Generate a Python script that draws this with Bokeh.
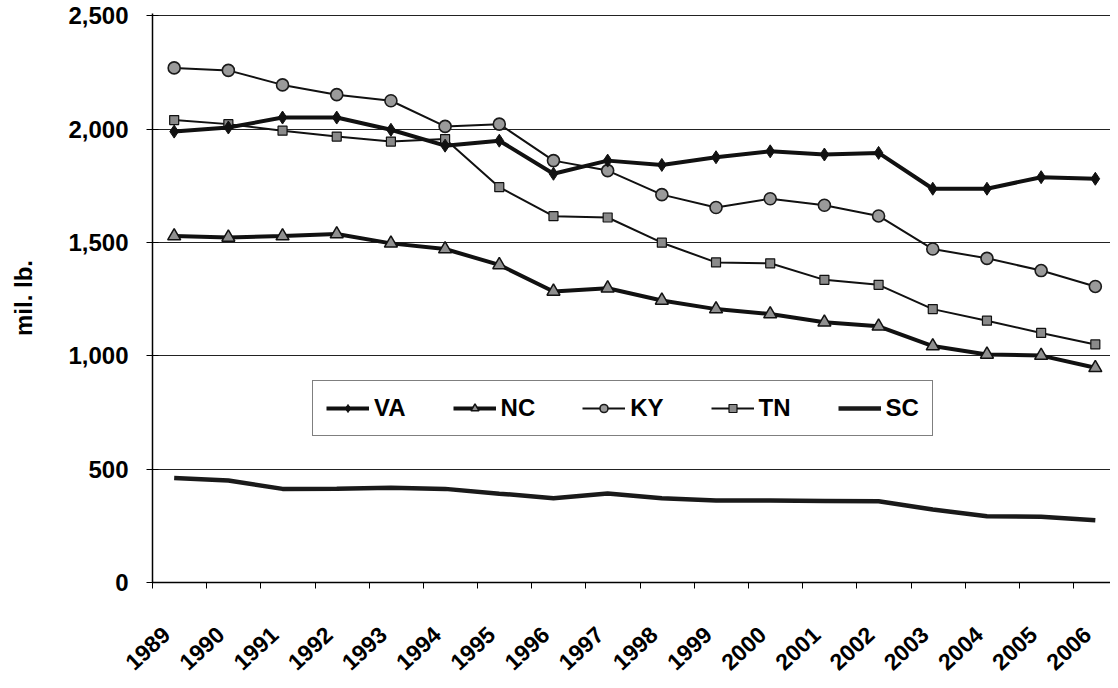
from bokeh.plotting import figure
from bokeh.models import FixedTicker, NumeralTickFormatter, Range1d, Legend
from bokeh.embed import file_html
from bokeh.resources import INLINE

years = list(range(1989, 2007))
va = [1989, 2007, 2051, 2051, 1997, 1927, 1949, 1803, 1861, 1842, 1876, 1902, 1888, 1895, 1737, 1737, 1788, 1781]
nc = [1528, 1522, 1528, 1537, 1496, 1471, 1401, 1284, 1298, 1244, 1206, 1184, 1148, 1130, 1043, 1006, 1001, 947]
ky = [2270, 2259, 2195, 2152, 2125, 2012, 2022, 1861, 1817, 1711, 1654, 1693, 1664, 1617, 1471, 1430, 1376, 1306]
tn = [2040, 2022, 1993, 1967, 1945, 1956, 1744, 1616, 1610, 1499, 1412, 1408, 1335, 1313, 1206, 1155, 1101, 1050]
sc = [461, 450, 413, 414, 418, 413, 392, 372, 393, 372, 362, 362, 360, 358, 322, 292, 290, 275]
y_ticks = [0, 500, 1000, 1500, 2000, 2500]

FONT = "Liberation Sans"

p = figure(width=1110, height=680, output_backend="svg", toolbar_location=None,
           x_range=Range1d(1988.6, 2006.28), y_range=Range1d(0, 2510),
           min_border_left=152, min_border_right=0, min_border_top=13, min_border_bottom=92)
p.outline_line_color = None
p.background_fill_color = "white"
p.border_fill_color = "white"

p.xgrid.grid_line_color = None
p.ygrid.grid_line_color = "#222222"
p.ygrid.grid_line_width = 1
p.ygrid.ticker = FixedTicker(ticks=y_ticks)

# y axis
p.yaxis.ticker = FixedTicker(ticks=y_ticks)
p.yaxis.formatter = NumeralTickFormatter(format="0,0")
p.yaxis.major_label_text_font = FONT
p.yaxis.major_label_text_font_style = "bold"
p.yaxis.major_label_text_font_size = "24px"
p.yaxis.major_label_text_color = "black"
p.yaxis.major_tick_in = 6
p.yaxis.major_tick_out = 6
p.yaxis.minor_tick_line_color = None
p.yaxis.major_label_standoff = 18
p.yaxis.axis_line_color = "black"
p.yaxis.axis_line_width = 1.5
p.yaxis.axis_label = "mil. lb."
p.yaxis.axis_label_text_font = FONT
p.yaxis.axis_label_text_font_style = "bold"
p.yaxis.axis_label_text_font_size = "24px"
p.yaxis.axis_label_text_color = "black"
p.yaxis.axis_label_standoff = 28

# x axis: labels near each point, tick marks between categories
label_pos = [y - 0.15 for y in years]
p.xaxis.ticker = FixedTicker(ticks=label_pos, minor_ticks=[y - 0.4 for y in years])
p.xaxis.major_label_overrides = {lp: str(y) for lp, y in zip(label_pos, years)}
p.xaxis.major_tick_line_color = None
p.xaxis.minor_tick_line_color = "black"
p.xaxis.minor_tick_in = 0
p.xaxis.minor_tick_out = 6
p.xaxis.axis_line_color = "black"
p.xaxis.axis_line_width = 1.5
p.xaxis.major_label_orientation = 0.75
p.xaxis.major_label_text_font = FONT
p.xaxis.major_label_text_font_style = "bold"
p.xaxis.major_label_text_font_size = "23px"
p.xaxis.major_label_text_color = "black"
p.xaxis.major_label_standoff = 42

# series
r_sc = p.line(years, sc, line_color="#1a1a1a", line_width=4.5)
r_tn_l = p.line(years, tn, line_color="#111111", line_width=2)
r_tn_m = p.scatter(years, tn, marker="square", size=9, fill_color="#8a8a8a", line_color="#111111", line_width=1.2)
r_ky_l = p.line(years, ky, line_color="#111111", line_width=2)
r_ky_m = p.scatter(years, ky, marker="circle", size=12, fill_color="#9a9a9a", line_color="#1a1a1a", line_width=1.6)
r_nc_l = p.line(years, nc, line_color="#111111", line_width=4)
r_nc_m = p.scatter(years, nc, marker="triangle", size=13, fill_color="#909090", line_color="#111111", line_width=1.5)
r_va_l = p.line(years, va, line_color="#111111", line_width=4)
r_va_m = p.scatter(years, va, marker="diamond", size=13, fill_color="#111111", line_color="#111111")

legend = Legend(items=[("VA", [r_va_l, r_va_m]), ("NC", [r_nc_l, r_nc_m]), ("KY", [r_ky_l, r_ky_m]),
                       ("TN", [r_tn_l, r_tn_m]), ("SC", [r_sc])],
                location=(160, 146), orientation="horizontal")
legend.label_text_font = FONT
legend.label_text_font_style = "bold"
legend.label_text_font_size = "24px"
legend.label_text_color = "black"
legend.glyph_width = 43
legend.glyph_height = 20
legend.label_standoff = 5
legend.spacing = 47
legend.padding = 13
legend.margin = 0
legend.border_line_color = "black"
legend.border_line_width = 1.5
legend.background_fill_color = "white"
legend.background_fill_alpha = 1
p.add_layout(legend, "center")

open("out.html", "w").write(file_html(p, INLINE))
